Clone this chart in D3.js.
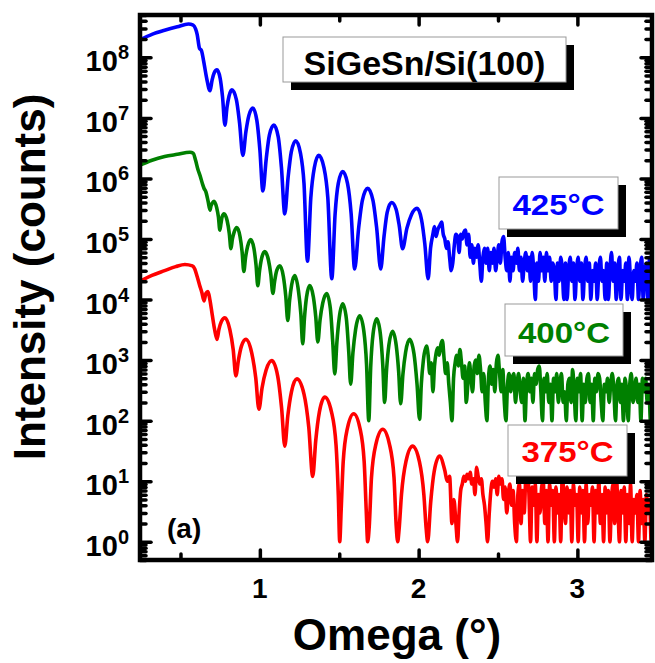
<!DOCTYPE html>
<html><head><meta charset="utf-8">
<script src="https://cdn.jsdelivr.net/npm/d3@7/dist/d3.min.js"></script>
<style>
body{margin:0;background:#fff}
svg{display:block}
text{font-family:"Liberation Sans",Arial,sans-serif;font-weight:bold}
</style>
</head><body>
<svg id="c" width="655" height="663"></svg>
<script>
// ---- data: [omega (deg), intensity (counts)] ----
const s425 = [
[0.245,1.95e8],[0.32,2.4e8],[0.40,2.8e8],[0.48,3.2e8],[0.55,3.55e8],[0.58,3.4e8],[0.595,2.95e8],[0.605,2.4e8],[0.62,1.4e8],[0.632,1.3e8],[0.645,8.9e7],[0.665,4.5e7],[0.686,2.8e7],[0.699,4.2e7],[0.712,5.5e7],[0.73,6.2e7],[0.75,4.5e7],[0.765,2.2e7],[0.78,7.6e6],[0.793,1.5e7],[0.806,2.3e7],[0.824,2.9e7],[0.852,2.0e7],[0.872,8.3e6],[0.893,2.4e6],[0.912,5.9e6],[0.931,1.1e7],[0.956,1.45e7],[0.981,9.1e6],[1.0,3.0e6],[1.019,6.2e5],[1.04,2.1e6],[1.06,5.2e6],[1.088,7.6e6],[1.116,4.8e6],[1.136,1.5e6],[1.157,2.6e5],[1.178,1.05e6],[1.198,2.75e6],[1.226,4.2e6],[1.256,2.6e6],[1.278,8.3e5],[1.30,4.3e4],[1.321,4.8e5],[1.343,1.5e6],[1.371,2.4e6],[1.404,1.5e6],[1.428,4.8e5],[1.453,2.2e4],[1.474,2.6e5],[1.494,8.3e5],[1.522,1.3e6],[1.552,8.3e5],[1.575,2.6e5],[1.597,3.2e4],[1.622,1.5e5],[1.646,4.4e5],[1.679,6.9e5],[1.712,4.4e5],[1.736,1.5e5],[1.761,3.2e4],[1.782,1.1e5],[1.802,2.75e5],[1.83,4.0e5],[1.858,3.1e5],[1.878,1.65e5],[1.899,6.9e4],[1.926,1.5e5],[1.954,2.5e5],[1.99,3.2e5],[2.018,2.1e5],[2.039,8.3e4],[2.06,2.2e4],
[2.075,7e4],[2.09,1.2e5],[2.10,1.6e5],[2.11,1.1e5],[2.12,1.4e5],[2.135,1.7e5],[2.145,1.9e5],[2.155,1.2e5],[2.165,1.0e5],[2.175,7e4],[2.185,9e4],[2.195,5e4],[2.205,3e4],[2.215,4e4],[2.225,8e4],[2.235,1.2e5],[2.245,1.1e5],[2.255,6e4],[2.265,1.2e5],[2.275,1.0e5],[2.285,1.3e5],[2.295,1.4e5],[2.305,8e4],[2.315,1.2e5],[2.325,5e4],[2.335,8e4],[2.345,4e4],[2.355,7e4],[2.365,5e4],[2.375,8e4],[2.385,4e4],[2.395,2e4],[2.405,5e4],[2.415,7e4],[2.425,4e4],[2.435,7e4],[2.445,3e4],[2.455,6e4],[2.465,4e4],[2.475,7e4],[2.485,3e4],[2.495,5e4],[2.505,8e4],[2.515,4e4],[2.525,9e4],[2.535,1.1e5],[2.545,5e4],[2.555,3e4],[2.565,6e4],[2.575,2e4],[2.585,5e4],[2.595,3e4],[2.605,6e4],[2.615,4e4],[2.625,7e4],[2.635,3e4],[2.645,5e4],[2.655,2e4],[2.665,4e4],[2.675,6e4],[2.685,3e4],[2.695,5e4],[2.705,2e4],[2.715,6e4],[2.725,3e4],[2.735,1e4],[2.745,4e4],[2.755,2e4],[2.765,6e4],[2.775,3e4],[2.785,5e4],[2.795,2e4],[2.805,6e4],[2.815,3e4],[2.825,5e4],[2.835,2e4],[2.845,4e4],[2.855,3e4],[2.865,1e4],[2.875,4e4],[2.885,2e4],[2.895,5e4],[2.905,3e4],[2.915,1e4],[2.925,4e4],[2.935,1e4],[2.945,3e4],[2.955,5e4],[2.965,2e4],[2.975,4e4],[2.985,1e4],[2.995,3e4],[3.005,5e4],[3.015,2e4],[3.025,4e4],[3.035,1e4],[3.045,3e4],[3.055,5e4],[3.065,2e4],[3.075,4e4],[3.085,1e4],[3.095,3e4],[3.105,2e4],[3.115,4e4],[3.125,1e4],[3.135,3e4],[3.145,5e4],[3.155,2e4],[3.165,3e4],[3.175,1e4],[3.185,4e4],[3.195,1e4],[3.205,3e4],[3.215,6e4],[3.225,2e4],[3.235,4e4],[3.245,1e4],[3.255,3e4],[3.265,5e4],[3.275,1e4],[3.285,3e4],[3.295,2e4],[3.305,4e4],[3.315,1e4],[3.325,5e4],[3.335,2e4],[3.345,1e4],[3.355,3e4],[3.365,2e4],[3.375,4e4],[3.385,1e4],[3.395,3e4],[3.405,5e4],[3.415,1e4],[3.425,3e4],[3.435,4e4],[3.445,1e4],[3.455,5e4],[3.465,2e4],[3.475,3e4]
];
const s400 = [
[0.245,1.66e6],[0.32,2.0e6],[0.40,2.3e6],[0.48,2.5e6],[0.56,2.7e6],[0.58,2.6e6],[0.595,2.0e6],[0.61,1.4e6],[0.623,1.12e6],[0.64,7.9e5],[0.648,6.9e5],[0.66,6.0e5],[0.674,4.2e5],[0.686,3.0e5],[0.692,3.5e5],[0.70,3.9e5],[0.711,4.2e5],[0.728,3.3e5],[0.739,2.3e5],[0.748,1.4e5],[0.755,1.8e5],[0.762,2.3e5],[0.774,2.6e5],[0.794,2.0e5],[0.807,1.26e5],[0.818,6.9e4],[0.827,1.0e5],[0.838,1.3e5],[0.855,1.55e5],[0.875,1.1e5],[0.888,6.2e4],[0.899,2.9e4],[0.91,5.0e4],[0.923,7.6e4],[0.943,9.8e4],[0.963,6.9e4],[0.976,3.7e4],[0.987,1.7e4],[0.998,3.0e4],[1.011,4.8e4],[1.031,6.2e4],[1.054,4.5e4],[1.069,2.6e4],[1.082,1.26e4],[1.093,2.0e4],[1.106,3.0e4],[1.126,3.6e4],[1.148,2.4e4],[1.163,1.15e4],[1.176,4.5e3],[1.187,9.5e3],[1.2,1.74e4],[1.22,2.5e4],[1.243,1.4e4],[1.258,5.9e3],[1.27,1.86e3],[1.281,5.0e3],[1.294,1.1e4],[1.314,1.7e4],[1.337,1.1e4],[1.352,5.2e3],[1.365,2.0e3],[1.379,4.6e3],[1.396,8.7e3],[1.421,1.26e4],[1.444,7.1e3],[1.459,2.0e3],[1.472,5.9e2],[1.485,1.95e3],[1.50,5.0e3],[1.522,8.5e3],[1.545,4.8e3],[1.56,1.35e3],[1.572,4.0e2],[1.586,1.3e3],[1.603,3.2e3],[1.629,5.4e3],[1.655,3.0e3],[1.672,8.5e2],[1.686,1.0e2],[1.698,7.6e2],[1.713,2.7e3],[1.736,4.8e3],[1.759,2.7e3],[1.774,8.5e2],[1.786,2.0e2],[1.798,6.9e2],[1.813,1.8e3],[1.836,3.0e3],[1.859,1.74e3],[1.874,6.6e2],[1.887,1.9e2],[1.901,5.8e2],[1.918,1.35e3],[1.943,2.2e3],[1.971,1.26e3],[1.99,4.0e2],[2.006,1.05e2],[2.017,4.0e2],[2.03,1.0e3],[2.05,1.7e3],
[2.06,1.2e3],[2.07,6e2],[2.08,9e2],[2.09,3e2],[2.10,8e2],[2.11,1.3e3],[2.12,1.6e3],[2.13,1.2e3],[2.14,1.8e3],[2.15,2.1e3],[2.16,1.1e3],[2.17,6e2],[2.18,9e2],[2.19,4e2],[2.20,2e2],[2.21,1e2],[2.22,5e2],[2.23,9e2],[2.24,1.2e3],[2.25,8e2],[2.26,1.5e3],[2.27,9e2],[2.28,5e2],[2.29,8e2],[2.30,2e2],[2.31,4e2],[2.32,9e2],[2.33,5e2],[2.34,3e2],[2.35,8e2],[2.36,1.0e3],[2.37,6e2],[2.38,1.2e3],[2.39,7e2],[2.40,3e2],[2.41,6e2],[2.42,2e2],[2.43,1e2],[2.44,5e2],[2.45,8e2],[2.46,4e2],[2.47,7e2],[2.48,3e2],[2.49,9e2],[2.50,1.2e3],[2.51,6e2],[2.52,3e2],[2.53,7e2],[2.54,2e2],[2.55,1e2],[2.56,4e2],[2.57,6e2],[2.58,3e2],[2.59,5e2],[2.60,6e2],[2.61,2e2],[2.62,4e2],[2.63,6e2],[2.64,3e2],[2.65,2e2],[2.66,5e2],[2.67,1e2],[2.68,4e2],[2.69,6e2],[2.70,3e2],[2.71,5e2],[2.72,2e2],[2.73,6e2],[2.74,4e2],[2.75,7e2],[2.76,8e2],[2.77,3e2],[2.78,1e2],[2.79,5e2],[2.80,3e2],[2.81,6e2],[2.82,2e2],[2.83,4e2],[2.84,1e2],[2.85,5e2],[2.86,3e2],[2.87,6e2],[2.88,2e2],[2.89,4e2],[2.90,6e2],[2.91,2e2],[2.92,3e2],[2.93,1e2],[2.94,4e2],[2.95,5e2],[2.96,2e2],[2.97,7e2],[2.98,3e2],[2.99,1e2],[3.00,5e2],[3.01,3e2],[3.02,6e2],[3.03,1e2],[3.04,4e2],[3.05,2e2],[3.06,5e2],[3.07,6e2],[3.08,2e2],[3.09,4e2],[3.10,1e2],[3.11,5e2],[3.12,3e2],[3.13,6e2],[3.14,5e2],[3.15,2e2],[3.16,1e2],[3.17,4e2],[3.18,3e2],[3.19,5e2],[3.20,2e2],[3.21,4e2],[3.22,6e2],[3.23,3e2],[3.24,1e2],[3.25,4e2],[3.26,5e2],[3.27,2e2],[3.28,4e2],[3.29,1e2],[3.30,5e2],[3.31,3e2],[3.32,1e2],[3.33,4e2],[3.34,6e2],[3.35,2e2],[3.36,3e2],[3.37,5e2],[3.38,2e2],[3.39,4e2],[3.40,1e2],[3.41,5e2],[3.42,3e2],[3.43,5e2],[3.44,2e2],[3.45,4e2],[3.46,1e2],[3.47,3e2]
];
const s375 = [
[0.245,2.0e4],[0.32,2.5e4],[0.40,3.0e4],[0.47,3.5e4],[0.528,3.8e4],[0.575,3.6e4],[0.59,3.2e4],[0.605,2.4e4],[0.62,1.74e4],[0.635,1.3e4],[0.648,9.5e3],[0.66,1.26e4],[0.673,1.35e4],[0.685,1.0e4],[0.70,5.6e3],[0.715,3.2e3],[0.73,2.2e3],[0.742,3.2e3],[0.757,4.3e3],[0.78,5.0e3],[0.811,3.2e3],[0.832,1.5e3],[0.849,5.5e2],[0.865,1.0e3],[0.884,1.7e3],[0.912,2.2e3],[0.949,1.3e3],[0.974,5.1e2],[0.994,1.55e2],[1.014,3.5e2],[1.039,6.8e2],[1.075,9.8e2],[1.112,5.5e2],[1.137,1.6e2],[1.157,38],[1.176,1.2e2],[1.199,3.0e2],[1.233,4.9e2],[1.278,2.75e2],[1.308,78],[1.333,12],[1.352,47],[1.375,1.4e2],[1.409,2.45e2],[1.451,1.4e2],[1.48,39],[1.494,6],[1.503,1],[1.512,3.3],[1.525,21],[1.551,74],[1.591,1.3e2],[1.631,74],[1.657,21],[1.67,3.3],[1.679,1],[1.689,1.8],[1.703,11.5],[1.731,41],[1.774,72],[1.816,41],[1.845,11.5],[1.859,1.8],[1.868,1],[1.877,1.6],[1.892,6],[1.92,21],[1.962,38],[2.005,21],[2.033,6],[2.048,1.6],[2.057,1],[2.076,4.5],[2.098,14.5],[2.132,26],[2.165,15],[2.18,10],[2.195,12],[2.21,2],[2.222,5],[2.235,2],[2.245,1],
[2.255,3],[2.265,7],[2.275,9],[2.285,12],[2.295,10],[2.305,13],[2.315,11],[2.325,14],[2.335,9],[2.345,11],[2.355,6],[2.365,17],[2.375,12],[2.385,9],[2.395,11],[2.405,6],[2.415,4],[2.425,2],[2.434,1],[2.445,3],[2.455,7],[2.465,10],[2.475,8],[2.485,11],[2.495,6],[2.505,12],[2.515,9],[2.525,11],[2.535,5],[2.545,8],[2.555,3],[2.565,6],[2.575,9],[2.585,4],[2.595,7],[2.605,2],[2.616,1],
[2.625,6],[2.635,9],[2.645,2],[2.655,7],[2.665,3],[2.675,12],[2.685,18],[2.695,6],[2.705,1],[2.715,8],[2.725,4],[2.735,9],[2.745,1],[2.755,6],[2.765,3],[2.775,8],[2.785,10],[2.795,2],[2.805,7],[2.815,1],[2.825,9],[2.835,4],[2.845,7],[2.855,1],[2.865,8],[2.875,3],[2.885,6],[2.895,1],[2.905,14],[2.915,5],[2.925,2],[2.935,8],[2.945,3],[2.955,7],[2.965,1],[2.975,9],[2.985,4],[2.995,6],[3.005,1],[3.015,8],[3.025,3],[3.035,7],[3.045,1],[3.055,9],[3.065,2],[3.075,6],[3.085,4],[3.095,8],[3.105,1],[3.115,7],[3.125,3],[3.135,10],[3.145,2],[3.155,6],[3.165,1],[3.175,8],[3.185,3],[3.195,7],[3.205,1],[3.215,5],[3.225,9],[3.235,2],[3.245,12],[3.255,4],[3.265,1],[3.275,7],[3.285,3],[3.295,8],[3.305,1],[3.315,6],[3.325,2],[3.335,9],[3.345,1],[3.355,5],[3.365,3],[3.375,6],[3.385,1],[3.395,7],[3.405,2],[3.415,5],[3.425,1],[3.435,6],[3.445,3],[3.455,5],[3.465,1],[3.475,4]
];
const seriesNames = ["375°C","400°C","425°C"];
const seriesColors = ["#ff0000","#008000","#0000ff"];
const xMajor = [1,2,3];
const xMinor = [0.5,1.5,2.5];
const yMajor = [1,10,100,1e3,1e4,1e5,1e6,1e7,1e8];
const yExp = ["0","1","2","3","4","5","6","7","8"];
const title = "SiGeSn/Si(100)";
const panel = "(a)";
const xTitle = "Omega (°)";
const yTitle = "Intensity (counts)";

// ---- layout ----
const L=140, R=652, T=15, B=560;
const svg = d3.select("#c");
const x = d3.scaleLinear().domain([0.245,3.47]).range([L,R]);
const y = d3.scaleLog().domain([0.5,5e8]).range([B,T]);

svg.append("defs").append("clipPath").attr("id","clip")
  .append("rect").attr("x",L).attr("y",T).attr("width",R-L).attr("height",B-T);

const line = d3.line().x(d=>x(d[0])).y(d=>y(d[1])).curve(d3.curveMonotoneX);
const gCurves = svg.append("g").attr("clip-path","url(#clip)");
[s375,s400,s425].forEach((s,i)=>{
  gCurves.append("path").attr("d",line(s)).attr("fill","none")
    .attr("stroke",seriesColors[i]).attr("stroke-width",3.6).attr("stroke-linejoin","round");
});

// minor y ticks
const yMinor = [];
for (let e=-1;e<=8;e++) for (let k=2;k<=9;k++){const v=k*Math.pow(10,e); if(v>=0.5&&v<=5e8) yMinor.push(v);}

function ticks(axis, tr, vals, size){
  const a = svg.append("g").attr("transform",tr)
    .call(axis.tickValues(vals).tickSizeInner(size).tickSizeOuter(0).tickFormat(""));
  a.select(".domain").remove();
  a.selectAll("line").attr("stroke","#000").attr("stroke-width",3.5).attr("stroke-linecap","round");
}
ticks(d3.axisBottom(x), `translate(0,${B})`, xMajor, -10);
ticks(d3.axisBottom(x), `translate(0,${B})`, xMinor, -6);
ticks(d3.axisTop(x), `translate(0,${T})`, xMajor, -10);
ticks(d3.axisTop(x), `translate(0,${T})`, xMinor, -6);
ticks(d3.axisLeft(y), `translate(${L},0)`, yMajor, -11);
ticks(d3.axisLeft(y), `translate(${L},0)`, yMinor, -6);
ticks(d3.axisRight(y), `translate(${R},0)`, yMajor, -11);
ticks(d3.axisRight(y), `translate(${R},0)`, yMinor, -6);

svg.append("rect").attr("x",L).attr("y",T).attr("width",R-L).attr("height",B-T)
  .attr("fill","none").attr("stroke","#000").attr("stroke-width",4.5);

// tick labels
xMajor.forEach(v=>{
  svg.append("text").attr("x",x(v)).attr("y",598).attr("text-anchor","middle")
    .attr("font-size",28).text(String(v));
});
yMajor.forEach((v,i)=>{
  const t = svg.append("text").attr("x",129).attr("y",y(v)+14).attr("text-anchor","end").attr("font-size",29);
  t.append("tspan").text("10");
  t.append("tspan").attr("dy",-12).attr("font-size",20).text(yExp[i]);
});

// axis titles
svg.append("text").attr("x",397).attr("y",650).attr("text-anchor","middle").attr("font-size",44).text(xTitle);
svg.append("text").attr("transform","translate(45,277) rotate(-90)").attr("text-anchor","middle").attr("font-size",44).text(yTitle);

// panel label
svg.append("text").attr("x",167).attr("y",538).attr("font-size",28).text(panel);

// boxes
function box(x0,y0,w,h,txt,color,fs,baseline,tl){
  svg.append("rect").attr("x",x0+8).attr("y",y0+8).attr("width",w).attr("height",h).attr("fill","#000");
  svg.append("rect").attr("x",x0).attr("y",y0).attr("width",w).attr("height",h).attr("fill","#fff").attr("stroke","#999").attr("stroke-width",1);
  const t = svg.append("text").attr("x",x0+w/2).attr("y",baseline).attr("text-anchor","middle")
    .attr("font-size",fs).attr("fill",color).text(txt);
  if (tl) t.attr("textLength",tl).attr("lengthAdjust","spacingAndGlyphs");
}
box(283,37,283,45,title,"#000",34,75,null);
box(499,177,119,52,seriesNames[2],seriesColors[2],30,215,92);
box(505,304,118,52,seriesNames[1],seriesColors[1],30,343,92);
box(508,425,119,51,seriesNames[0],seriesColors[0],30,462,92);
</script>
</body></html>
